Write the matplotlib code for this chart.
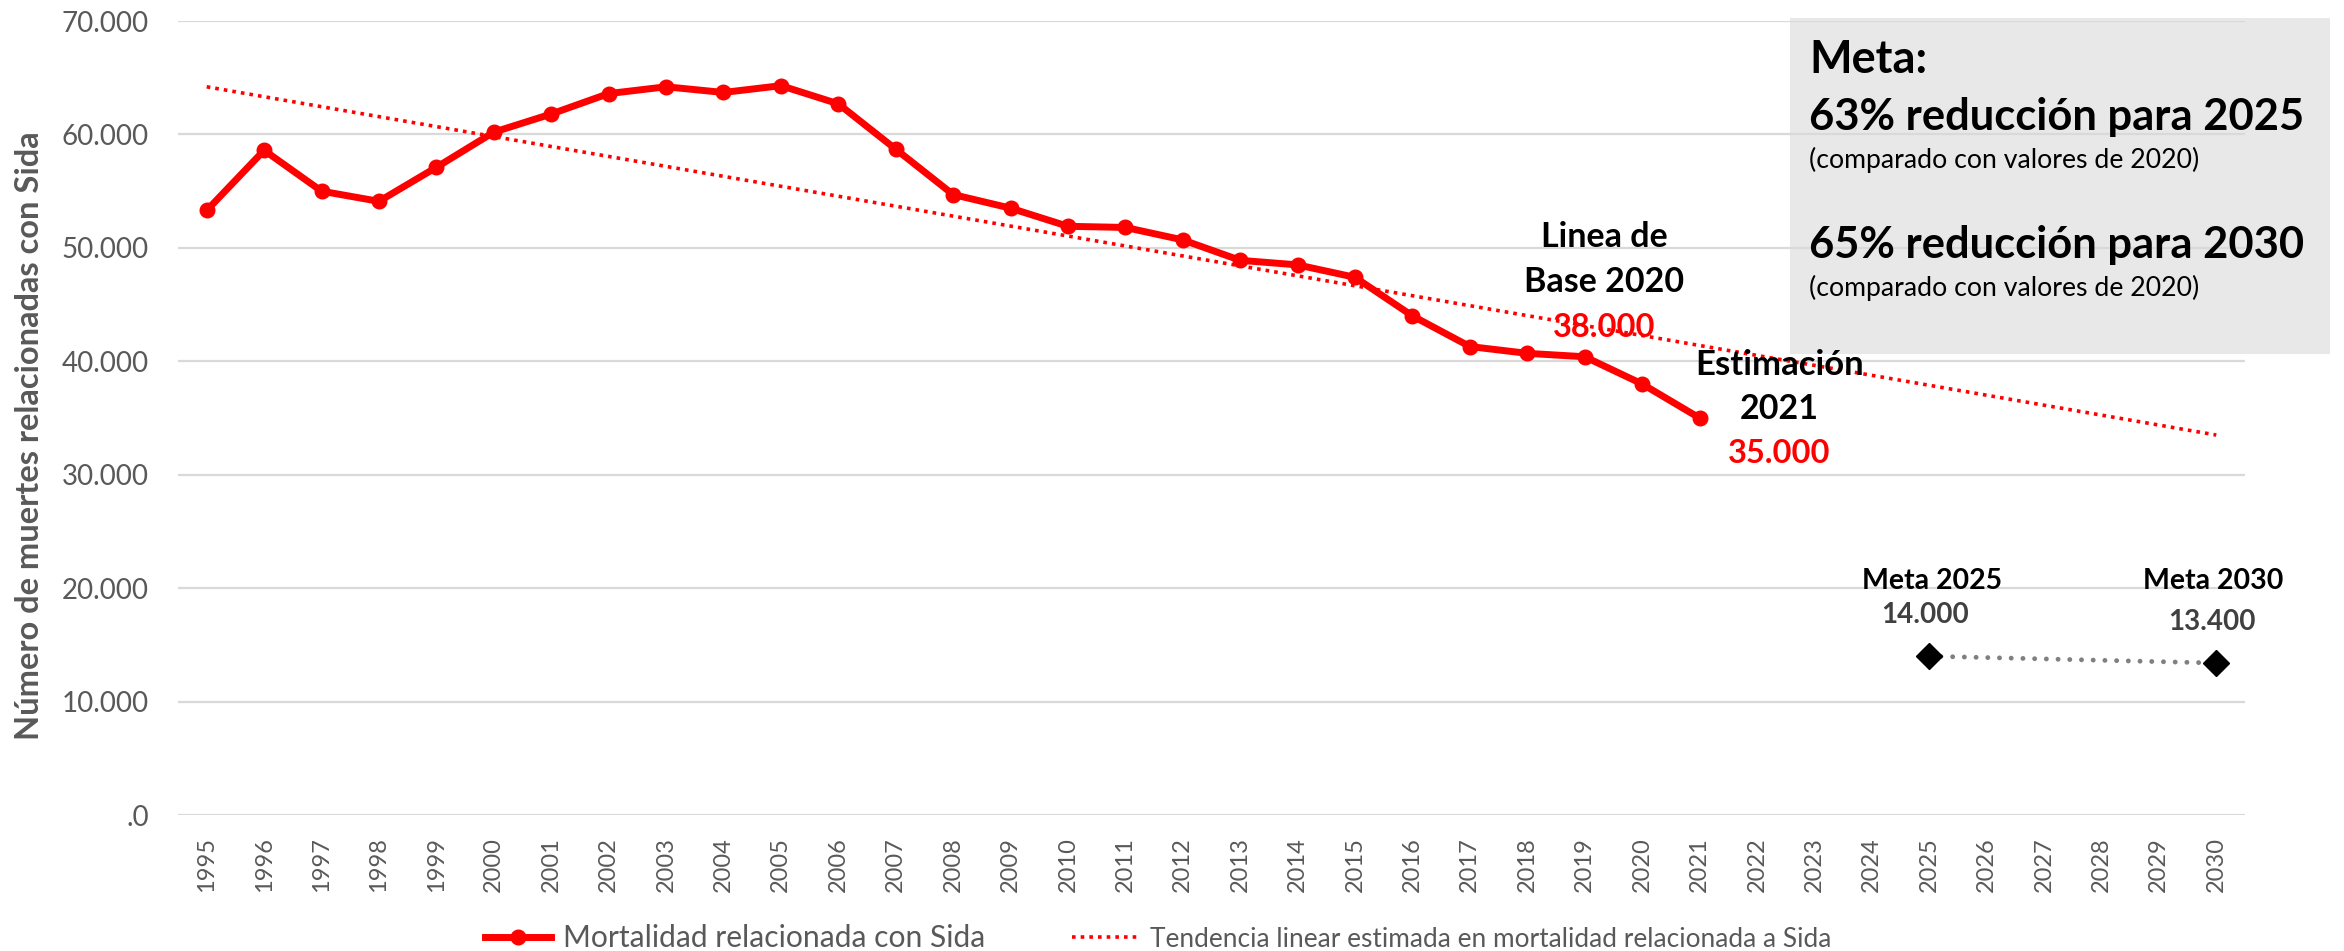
import matplotlib
matplotlib.use("Agg")
import matplotlib.pyplot as plt
from matplotlib.lines import Line2D
from matplotlib.patches import Rectangle

# ---- data ----
years = [str(y) for y in range(1995, 2031)]
mort_years = [str(y) for y in range(1995, 2022)]
mortality = [53300, 58600, 55000, 54100, 57100, 60200, 61800, 63600, 64200, 63700,
             64300, 62700, 58700, 54700, 53500, 51900, 51800, 50700, 48900, 48500,
             47400, 44000, 41300, 40700, 40400, 38000, 35000]
trend_years = ["1995", "2030"]
trend_values = [64200, 33500]
meta_years = ["2025", "2030"]
meta_values = [14000, 13400]
y_ticks = [0, 10000, 20000, 30000, 40000, 50000, 60000, 70000]
y_tick_labels = [".0", "10.000", "20.000", "30.000", "40.000", "50.000", "60.000", "70.000"]

plt.rcParams['font.family'] = ['Lato', 'DejaVu Sans']

W, H = 2344, 951
fig = plt.figure(figsize=(W / 100, H / 100), dpi=100)
fig.patch.set_facecolor("white")

def fx(px):
    return px / W

def fy(py):
    return 1 - py / H

ax = fig.add_axes([fx(178), fy(815), fx(2245) - fx(178), fy(21) - fy(815)])
ax.patch.set_alpha(0)
ax.set_zorder(1)

idx = {y: i for i, y in enumerate(years)}
xm = [idx[y] for y in mort_years]
xt = [idx[y] for y in trend_years]
xmeta = [idx[y] for y in meta_years]

red = "#FF0000"
ax.plot(xt, trend_values, color=red, lw=2.6, linestyle=(0, (1, 1.4)), zorder=3)
ax.plot(xm, mortality, color=red, lw=5, marker="o", markersize=10.5, zorder=4)
ax.plot(xmeta, meta_values, color="#808080", lw=3.5, linestyle=(0, (0.01, 2.4)),
        dash_capstyle="round", zorder=3)
ax.plot(xmeta, meta_values, linestyle="none", marker="D", markersize=13,
        color="black", zorder=5)

ax.set_xlim(-0.5, len(years) - 0.5)
ax.set_ylim(0, 70000)
ax.set_yticks(y_ticks)
ax.set_yticklabels(y_tick_labels)
ax.set_xticks(range(len(years)))
ax.set_xticklabels(years, rotation=90)
ax.tick_params(axis="y", length=0, pad=21, labelsize=20, labelcolor="#595959")
ax.tick_params(axis="x", length=0, pad=16, labelsize=17, labelcolor="#595959")
for s in ax.spines.values():
    s.set_visible(False)
ax.grid(axis="y", color="#D9D9D9", lw=1.6, zorder=0)
ax.set_axisbelow(True)

fig.text(fx(30), fy(436), "Número de muertes relacionadas con Sida", rotation=90,
         ha="center", va="center", fontsize=23.5, fontweight="bold", color="#595959")

# grey box
box = Rectangle((fx(1790), fy(354)), fx(2330) - fx(1790), fy(18) - fy(354),
                transform=fig.transFigure, facecolor="#E8E8E8", edgecolor="none", zorder=0)
fig.add_artist(box)
box.set_zorder(0)
tx = fx(1809)
fig.text(tx, fy(73), "Meta:", fontsize=32.5, fontweight="bold", color="black", va="baseline", zorder=2)
fig.text(tx, fy(130), "63% reducción para 2025", fontsize=31.3, fontweight="bold", color="black", va="baseline", zorder=2)
fig.text(tx, fy(168), "(comparado con valores de 2020)", fontsize=19.2, color="black", va="baseline", zorder=2)
fig.text(tx, fy(258), "65% reducción para 2030", fontsize=31.3, fontweight="bold", color="black", va="baseline", zorder=2)
fig.text(tx, fy(296), "(comparado con valores de 2020)", fontsize=19.2, color="black", va="baseline", zorder=2)

def dx(px):
    return (px - 206.7) / 57.4

def dy(py):
    return (815 - py) / 113.4 * 10000

def lab(xp, yp, s, size, color="black"):
    ax.text(dx(xp), dy(yp), s, ha="center", va="baseline", fontsize=size,
            fontweight="bold", color=color, zorder=6)

lab(1604, 247, "Linea de", 24.5)
lab(1604, 292, "Base 2020", 24.5)
lab(1604, 337, "38.000", 23.5, red)
lab(1779, 375, "Estimación", 25)
lab(1779, 419, "2021", 24.5)
lab(1779, 463, "35.000", 23.5, red)
lab(1932, 589, "Meta 2025", 20.5)
lab(1925, 623, "14.000", 20, "#404040")
lab(2213, 589, "Meta 2030", 20.5)
lab(2211, 630, "13.400", 20, "#404040")

handles = [
    Line2D([], [], color=red, lw=5, marker="o", markersize=10.5),
    Line2D([], [], color=red, lw=2.6, linestyle=(0, (1, 1.4))),
]
leg = fig.legend(handles, ["Mortalidad relacionada con Sida",
                           "Tendencia linear estimada en mortalidad relacionada a Sida"],
                 loc="center", bbox_to_anchor=(fx(1158), fy(938)), ncol=2, frameon=False,
                 fontsize=21.6, handlelength=2.2, handletextpad=0.4, columnspacing=2.9)
for t in leg.get_texts():
    t.set_color("#595959")
leg.get_texts()[1].set_fontsize(18.9)

fig.savefig("out.png", dpi=100, facecolor="white")
